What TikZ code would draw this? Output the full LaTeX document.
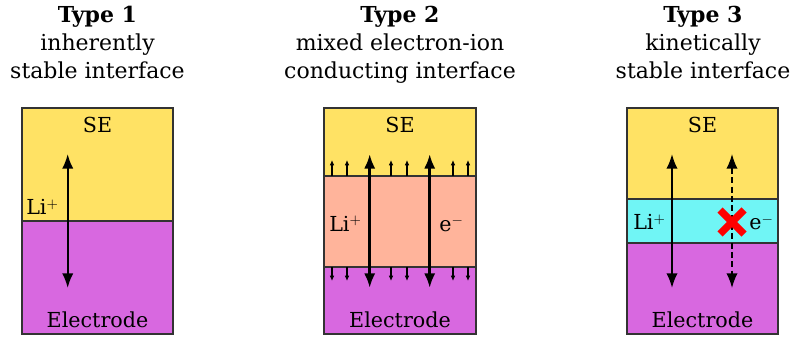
\documentclass[tikz,border=0pt]{standalone}
\usepackage{fontspec}
\setmainfont{DejaVu Serif}
\usetikzlibrary{arrows.meta, positioning, calc}

\definecolor{seyellow}{HTML}{FFE264}
\definecolor{elpurple}{HTML}{D868E0}
\definecolor{mixsalmon}{HTML}{FFB49B}
\definecolor{kincyan}{HTML}{70F5F5}

\tikzset{
  layerline/.style={draw=black!80, line width=0.8pt},
  title/.style={align=center, anchor=north, inner sep=0pt,
    font=\fontsize{16.5}{21}\selectfont},
  lbl/.style={inner sep=0pt, font=\fontsize{15.5}{17}\selectfont},
  flux/.style={line width=1.5pt, {Latex[length=11pt, width=8.5pt]}-{Latex[length=11pt, width=8.5pt]}},
  bigflux/.style={line width=2.2pt, {Latex[length=11pt, width=8.5pt]}-{Latex[length=11pt, width=8.5pt]}},
  tinyflux/.style={line width=0.8pt, -{Latex[length=4pt, width=3.5pt]}},
  blocked/.style={red, line width=5.5pt},
}

\newcommand{\layer}[5]{%
  % #1 = x, #2 = y topo, #3 = largura, #4 = altura, #5 = cor
  \fill[#5] (#1,#2) rectangle ++(#3,#4);
  \draw[layerline] (#1,#2) rectangle ++(#3,#4);
}

\begin{document}
\begin{tikzpicture}[x=0.75pt, y=-0.75pt]
    \useasboundingbox (0,0) rectangle (792,338);

    % titulos
    \node[title] (t1) at (97.5,5.5) {\textbf{Type 1}\\inherently\\stable interface};
    \node[title] (t2) at (400,5.5) {\textbf{Type 2}\\mixed electron-ion\\conducting interface};
    \node[title] (t3) at (703,5.5) {\textbf{Type 3}\\kinetically\\stable interface};

    % tipo 1
    \layer{22}{108}{151}{113}{seyellow}
    \layer{22}{221}{151}{113}{elpurple}
    \node[lbl] (se1) at (97.5,125) {SE};
    \node[lbl] (el1) at (97.5,320) {Electrode};
    \node[lbl, anchor=base west] (li1) at (26,215) {Li$^+$};
    \coordinate (a1t) at (67.7,154);
    \coordinate (a1b) at (67.7,288);
    \draw[flux] (a1t) -- (a1b);

    % tipo 2
    \layer{324}{108}{152}{68}{seyellow}
    \layer{324}{176}{152}{91}{mixsalmon}
    \layer{324}{267}{152}{67}{elpurple}
    \node[lbl] (se2) at (400,125) {SE};
    \node[lbl] (el2) at (400,320) {Electrode};
    \node[lbl, anchor=base west] (li2) at (329,231.7) {Li$^+$};
    \node[lbl, anchor=base west] (e2) at (439,231.7) {e$^-$};
    \coordinate (a2t) at (369.7,154);
    \coordinate (a2b) at (369.7,288);
    \coordinate (b2t) at (429.7,154);
    \coordinate (b2b) at (429.7,288);
    \draw[bigflux] (a2t) -- (a2b);
    \draw[bigflux] (b2t) -- (b2b);
    \foreach \x [count=\i] in {332,347,391,407,453,468} {
      \coordinate (up\i) at (\x,176);
      \coordinate (dn\i) at (\x,267);
      \draw[tinyflux] (up\i) -- ++(0,-16);
      \draw[tinyflux] (dn\i) -- ++(0,14);
    }

    % tipo 3
    \layer{627}{108}{151}{91}{seyellow}
    \layer{627}{199}{151}{44}{kincyan}
    \layer{627}{243}{151}{91}{elpurple}
    \node[lbl] (se3) at (702.5,125) {SE};
    \node[lbl] (el3) at (702.5,320) {Electrode};
    \node[lbl, anchor=base west] (li3) at (633,230) {Li$^+$};
    \node[lbl, anchor=base west] (e3) at (749,230) {e$^-$};
    \coordinate (a3t) at (672,154);
    \coordinate (a3b) at (672,288);
    \coordinate (b3t) at (732,154);
    \coordinate (b3b) at (732,288);
    \draw[flux] (a3t) -- (a3b);
    \draw[flux, line width=1.2pt, dash pattern=on 4.5pt off 2.5pt] (b3t) -- (b3b);
    \coordinate (xx) at (732,222);
    \draw[blocked] ($(xx)+(-12,-12)$) -- ($(xx)+(12,12)$);
    \draw[blocked] ($(xx)+(-12,12)$) -- ($(xx)+(12,-12)$);
\end{tikzpicture}
\end{document}
